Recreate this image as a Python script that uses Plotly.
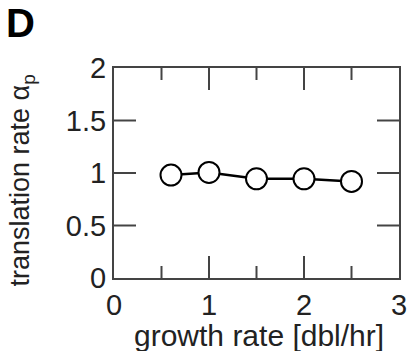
import plotly.graph_objects as go

growth_rate = [0.6, 1.0, 1.5, 2.0, 2.5]
translation_rate = [0.98, 1.005, 0.945, 0.945, 0.92]

x_ticks = [0, 1, 2, 3]
x_minor_ticks = [0.5, 1.5, 2.5]
y_ticks = [0, 0.5, 1, 1.5, 2]
y_tick_labels = ["0", "0.5", "1", "1.5", "2"]

FONT = "Liberation Sans, Arial, sans-serif"
AX = "#444444"
TXT = "#222222"

W, H = 409, 351
ML, MR, MT, MB = 114, 10, 68, 73
X_RANGE = [0, 3]
Y_RANGE = [0, 2]
MAJOR_LEN = 22  # px
MINOR_LEN = 12  # px

# pixel -> data unit conversion from the plot area size
px_x = (X_RANGE[1] - X_RANGE[0]) / (W - ML - MR)
px_y = (Y_RANGE[1] - Y_RANGE[0]) / (H - MT - MB)

# inside tick marks on all four sides, built from the tick arrays
tx, ty = [], []
for v in y_ticks[1:-1]:
    tx += [X_RANGE[0], X_RANGE[0] + MAJOR_LEN * px_x, None,
           X_RANGE[1], X_RANGE[1] - MAJOR_LEN * px_x, None]
    ty += [v, v, None, v, v, None]
for v, ln in [(t, MAJOR_LEN) for t in x_ticks[1:-1]] + [(t, MINOR_LEN) for t in x_minor_ticks]:
    tx += [v, v, None, v, v, None]
    ty += [Y_RANGE[0], Y_RANGE[0] + ln * px_y, None,
           Y_RANGE[1], Y_RANGE[1] - ln * px_y, None]

fig = go.Figure()
fig.add_trace(go.Scatter(
    x=tx, y=ty, mode="lines", line=dict(color=AX, width=2),
    hoverinfo="skip", showlegend=False, connectgaps=False,
))
fig.add_trace(go.Scatter(
    x=growth_rate, y=translation_rate, mode="lines+markers",
    line=dict(color="black", width=2.5),
    marker=dict(size=21, color="white", line=dict(color="black", width=2)),
    showlegend=False, cliponaxis=False,
))

fig.update_layout(
    width=W, height=H,
    margin=dict(l=ML, r=MR, t=MT, b=MB),
    paper_bgcolor="white", plot_bgcolor="white",
    font=dict(family=FONT, size=26, color=TXT),
    xaxis=dict(
        range=X_RANGE, tickvals=x_ticks, ticktext=[str(v) for v in x_ticks],
        ticks="", showline=True, linecolor=AX, linewidth=2, mirror=True,
        showgrid=False, zeroline=False, automargin=False,
        tickfont=dict(size=29, family=FONT, color=TXT),
    ),
    yaxis=dict(
        range=Y_RANGE, tickvals=y_ticks, ticktext=y_tick_labels,
        ticks="", showline=True, linecolor=AX, linewidth=2, mirror=True,
        showgrid=False, zeroline=False, automargin=False,
        tickfont=dict(size=29, family=FONT, color=TXT),
    ),
    annotations=[
        dict(text="growth rate [dbl/hr]", xref="paper", yref="paper",
             x=0.51, y=0, yshift=-39, xanchor="center", yanchor="top",
             showarrow=False, font=dict(size=30, family=FONT, color=TXT)),
        dict(text="translation rate α<sub>p</sub>", xref="paper", yref="paper",
             x=-0.323, y=0.464, xanchor="center", yanchor="middle", textangle=-90,
             showarrow=False, font=dict(size=27, family=FONT, color=TXT)),
        dict(text="<b>D</b>", xref="paper", yref="paper", x=-0.385, y=1.215,
             xanchor="left", yanchor="middle", showarrow=False,
             font=dict(size=40, family=FONT, color="black")),
    ],
)

fig.write_html("out.html", config={"displayModeBar": False},
               post_script="document.body.style.margin='0';")
